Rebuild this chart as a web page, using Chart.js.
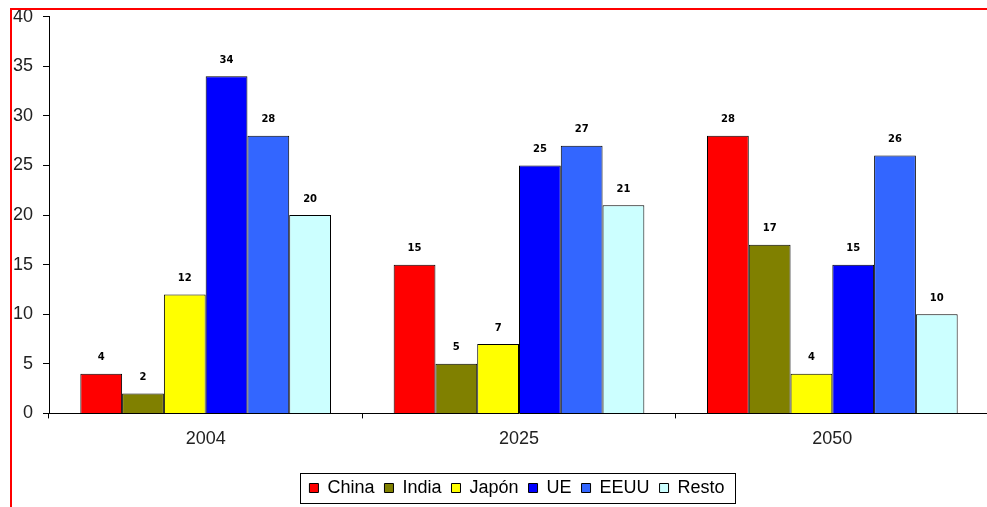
<!DOCTYPE html>
<html>
<head>
<meta charset="utf-8">
<script src="https://cdn.jsdelivr.net/npm/chart.js@4.4.0/dist/chart.umd.min.js"></script>
<style>
  html, body { margin: 0; padding: 0; background: #fff; overflow: hidden; }
  #wrap { position: relative; width: 989px; height: 507px; overflow: hidden; }
  #chart { position: absolute; left: 0; top: -4px; }
  #frame { position: absolute; left: 10px; top: 8px; width: 2000px; height: 2000px;
           border: 2px solid #ff0000; pointer-events: none; }
</style>
</head>
<body>
<div id="wrap">
  <canvas id="chart" width="989" height="511"></canvas>
  <div id="frame"></div>
</div>
<script>
const years = ['2004', '2025', '2050'];
const regions = ['China', 'India', 'Japón', 'UE', 'EEUU', 'Resto'];
const china = [4, 15, 28];
const india = [2, 5, 17];
const japon = [12, 7, 4];
const ue = [34, 25, 15];
const eeuu = [28, 27, 26];
const resto = [20, 21, 10];
const colors = ['#FF0000', '#808000', '#FFFF00', '#0000FF', '#3366FF', '#CCFFFF'];

const series = [china, india, japon, ue, eeuu, resto];
const font = 'Liberation Sans, Arial, sans-serif';

// numbers drawn above each bar
const valueLabels = {
    id: 'valueLabels',
    afterDatasetsDraw(chart) {
        const ctx = chart.ctx;
        ctx.save();
        ctx.font = 'bold 10px "DejaVu Sans"';
        ctx.fillStyle = '#000';
        ctx.textAlign = 'center';
        ctx.textBaseline = 'middle';
        chart.data.datasets.forEach((ds, i) => {
            chart.getDatasetMeta(i).data.forEach((bar, j) => {
                ctx.fillText(String(ds.data[j]), bar.x, bar.y - 16);
            });
        });
        ctx.restore();
    }
};

// legend centred under the plot area, not the canvas, and a bit lower
const legendShift = {
    id: 'legendShift',
    afterLayout(chart) {
        const lg = chart.legend;
        const area = chart.chartArea;
        const dx = (area.left + area.right) / 2 - (lg.left + lg.right) / 2 - 2;
        const dy = 9;
        lg.left += dx; lg.right += dx;
        lg.top += dy; lg.bottom += dy;
        (lg.legendHitBoxes || []).forEach(b => { b.left += dx; b.top += dy; });
    }
};

// box round the legend
const legendBox = {
    id: 'legendBox',
    afterDraw(chart) {
        const boxes = chart.legend.legendHitBoxes;
        if (!boxes || !boxes.length) return;
        const left = Math.min(...boxes.map(b => b.left)) - 9;
        const right = Math.max(...boxes.map(b => b.left + b.width)) + 11;
        const ctx = chart.ctx;
        ctx.save();
        ctx.strokeStyle = '#000';
        ctx.lineWidth = 1;
        ctx.strokeRect(Math.round(left) + 0.5, 477.5, Math.round(right - left), 30);
        ctx.restore();
    }
};

Chart.register(valueLabels, legendShift, legendBox);

new Chart(document.getElementById('chart'), {
    type: 'bar',
    data: {
        labels: years,
        datasets: regions.map((name, i) => ({
            label: name,
            data: series[i],
            backgroundColor: colors[i],
            borderColor: '#000',
            borderWidth: 1,
            categoryPercentage: 0.8,
            barPercentage: 1.0
        }))
    },
    options: {
        responsive: false,
        animation: false,
        layout: { padding: { top: 12, left: 0, right: 0, bottom: 9 } },
        plugins: {
            tooltip: { enabled: false },
            legend: {
                position: 'bottom',
                labels: {
                    boxWidth: 9,
                    boxHeight: 9,
                    padding: 10,
                    color: '#000',
                    font: { family: font, size: 18 },
                    generateLabels(chart) {
                        return chart.data.datasets.map((ds, i) => ({
                            text: ds.label,
                            fillStyle: ds.backgroundColor,
                            strokeStyle: '#000',
                            lineWidth: 1,
                            datasetIndex: i,
                            fontColor: '#000'
                        }));
                    }
                }
            }
        },
        scales: {
            x: {
                grid: { drawOnChartArea: false, color: '#000', tickLength: 5, offset: true },
                border: { color: '#000', width: 1 },
                ticks: { color: '#222', padding: 10, font: { family: font, size: 18 } }
            },
            y: {
                min: 0,
                max: 40,
                afterFit(scale) { scale.width = 49; },
                grid: { drawOnChartArea: false, color: '#000', tickLength: 6 },
                border: { color: '#000', width: 1 },
                ticks: { stepSize: 5, color: '#222', padding: 10, font: { family: font, size: 18 } }
            }
        }
    }
});
</script>
</body>
</html>
